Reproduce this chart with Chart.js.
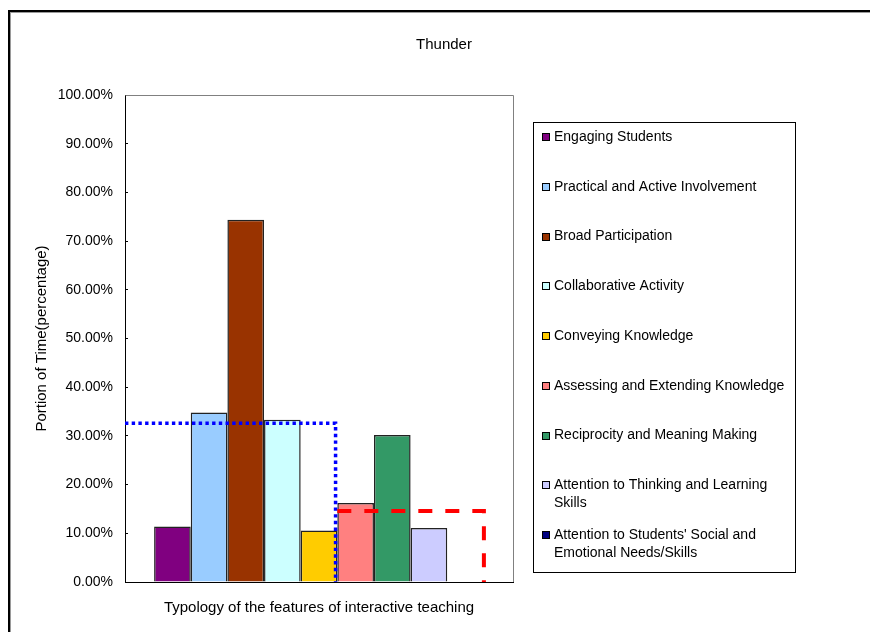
<!DOCTYPE html>
<html>
<head>
<meta charset="utf-8">
<title>Thunder</title>
<script src="https://cdn.jsdelivr.net/npm/chart.js@4.4.1/dist/chart.umd.min.js"></script>
<style>
  html, body { margin: 0; padding: 0; background: #fff; }
  #wrap { position: relative; width: 870px; height: 632px; overflow: hidden; }
  #wrap canvas { position: absolute; left: 0; top: 0; }
  #frame {
    position: absolute; left: 8px; top: 10px; width: 900px; height: 700px;
    border-top: 2px solid #000; border-left: 2px solid #000;
    box-shadow: inset 1px 1px 0 #9a9a9a; pointer-events: none;
  }
</style>
</head>
<body>
<div id="wrap">
  <canvas id="chart" width="870" height="632"></canvas>
  <div id="frame"></div>
</div>
<script>
// ---- data ----
const chartTitle = 'Thunder';
const xAxisTitle = 'Typology of the features of interactive teaching';
const yAxisTitle = 'Portion of Time(percentage)';

const features = [
  'Engaging Students',
  'Practical and Active Involvement',
  'Broad Participation',
  'Collaborative Activity',
  'Conveying Knowledge',
  'Assessing and Extending Knowledge',
  'Reciprocity and Meaning Making',
  'Attention to Thinking and Learning Skills',
  "Attention to Students' Social and Emotional Needs/Skills"
];
const featureColors = [
  '#800080', '#99CCFF', '#993300', '#CCFFFF', '#FFCC00',
  '#FF8080', '#339966', '#CCCCFF', '#000080'
];
// portion of time, percent
const portionOfTime = [11.4, 34.8, 74.4, 33.3, 10.6, 16.2, 30.2, 11.1, 0];

// two groups of features and their mean levels (percent)
const groupFirst = [0, 5];
const groupLast = [4, 8];
const groupMeans = [32.6, 14.6];

const FONT = "'Liberation Sans', Arial, sans-serif";

// ---- plugins ----
// gray frame on the top and right of the plot area
const plotFrame = {
  id: 'plotFrame',
  beforeDatasetsDraw(chart) {
    const { ctx, chartArea: a } = chart;
    ctx.save();
    ctx.strokeStyle = '#808080';
    ctx.lineWidth = 1;
    ctx.beginPath();
    ctx.moveTo(Math.round(a.left) + 0.5, Math.round(a.top) + 0.5);
    ctx.lineTo(Math.round(a.right) + 0.5, Math.round(a.top) + 0.5);
    ctx.lineTo(Math.round(a.right) + 0.5, Math.round(a.bottom));
    ctx.stroke();
    ctx.restore();
  }
};

// mean level of each group, drawn as a step down to the axis
const meanLineStyles = [
  { color: '#0000FF', width: 3.5, dash: [3.4, 3.3], fromAxis: true },
  { color: '#FF0000', width: 4, dash: [14, 13], fromAxis: false }
];
const groupMeanLines = {
  id: 'groupMeanLines',
  afterDatasetsDraw(chart) {
    const { ctx, chartArea: a, scales: { y } } = chart;
    const yZero = y.getPixelForValue(0);
    groupMeans.forEach((mean, g) => {
      const st = meanLineStyles[g];
      const firstBar = chart.getDatasetMeta(groupFirst[g]).data[0];
      const lastBar = chart.getDatasetMeta(groupLast[g]).data[0];
      const left = st.fromAxis ? a.left : firstBar.x - firstBar.width / 2;
      let right = lastBar.x + lastBar.width / 2;
      if (st.fromAxis) right -= st.width / 2;
      const yMean = y.getPixelForValue(mean);
      ctx.save();
      ctx.strokeStyle = st.color;
      ctx.lineWidth = st.width;
      ctx.setLineDash(st.dash);
      ctx.lineCap = 'butt';
      ctx.lineJoin = 'miter';
      ctx.beginPath();
      ctx.moveTo(left, yMean);
      ctx.lineTo(right, yMean);
      ctx.lineTo(right, yZero);
      ctx.stroke();
      ctx.restore();
    });
  }
};

// boxed legend with wrapped item text
const legendLayout = {
  left: 533, top: 122, width: 262, height: 450,
  firstRow: 137, rowStep: 49.75, lineStep: 18,
  swatchX: 542, swatch: 8, textX: 554, maxText: 240, fontSize: 14
};
const boxedLegend = {
  id: 'boxedLegend',
  afterDraw(chart) {
    const { ctx } = chart;
    const L = legendLayout;
    ctx.save();
    ctx.strokeStyle = '#000';
    ctx.lineWidth = 1;
    ctx.strokeRect(L.left + 0.5, L.top + 0.5, L.width, L.height);
    ctx.font = `${L.fontSize}px ${FONT}`;
    ctx.textBaseline = 'middle';
    ctx.textAlign = 'left';
    chart.data.datasets.forEach((ds, i) => {
      const rowY = L.firstRow + i * L.rowStep;
      ctx.fillStyle = ds.backgroundColor;
      ctx.fillRect(L.swatchX, Math.round(rowY - L.swatch / 2), L.swatch, L.swatch);
      ctx.strokeStyle = '#000';
      ctx.strokeRect(L.swatchX + 0.5, Math.round(rowY - L.swatch / 2) + 0.5, L.swatch - 1, L.swatch - 1);
      // word wrap
      const words = ds.label.split(' ');
      const lines = [];
      let line = '';
      words.forEach(w => {
        const test = line ? line + ' ' + w : w;
        if (line && ctx.measureText(test).width > L.maxText) {
          lines.push(line);
          line = w;
        } else {
          line = test;
        }
      });
      lines.push(line);
      ctx.fillStyle = '#000';
      lines.forEach((t, k) => ctx.fillText(t, L.textX, rowY + k * L.lineStep));
    });
    ctx.restore();
  }
};

// ---- chart ----
new Chart(document.getElementById('chart'), {
  type: 'bar',
  data: {
    labels: [''],
    datasets: features.map((name, i) => ({
      label: name,
      data: [portionOfTime[i]],
      backgroundColor: featureColors[i],
      borderColor: '#222',
      borderWidth: 1.5
    }))
  },
  options: {
    responsive: false,
    animation: false,
    devicePixelRatio: 1,
    layout: { padding: { left: 18, right: 0, top: 0, bottom: 0 } },
    datasets: { bar: { categoryPercentage: 0.85, barPercentage: 1.0 } },
    plugins: {
      legend: { display: false },
      tooltip: { enabled: false },
      title: {
        display: true,
        text: chartTitle,
        color: '#000',
        font: { family: FONT, size: 15, weight: 'normal' },
        padding: { top: 36, bottom: 41 }
      }
    },
    scales: {
      x: {
        type: 'category',
        grid: { display: false },
        ticks: { display: false },
        border: { color: '#000', width: 1 },
        title: {
          display: true,
          text: xAxisTitle,
          color: '#000',
          font: { family: FONT, size: 15 },
          padding: { top: 0, bottom: 15 }
        },
        afterFit(s) { s.height = 50; }
      },
      y: {
        min: 0,
        max: 100,
        ticks: {
          stepSize: 10,
          color: '#000',
          font: { family: FONT, size: 14 },
          padding: 15,
          callback: v => v.toFixed(2) + '%'
        },
        grid: { display: true, drawOnChartArea: false, drawTicks: true, tickLength: -3, color: '#000' },
        border: { color: '#000', width: 1 },
        title: {
          display: true,
          text: yAxisTitle,
          color: '#000',
          font: { family: FONT, size: 15 },
          padding: { top: 15, bottom: 0 }
        },
        afterFit(s) { s.width = 107; }
      },
      yLegendSpace: {
        type: 'linear',
        position: 'right',
        display: true,
        grid: { display: false },
        ticks: { display: false },
        border: { display: false },
        afterFit(s) { s.width = 357; }
      }
    }
  },
  plugins: [plotFrame, groupMeanLines, boxedLegend]
});
</script>
</body>
</html>
